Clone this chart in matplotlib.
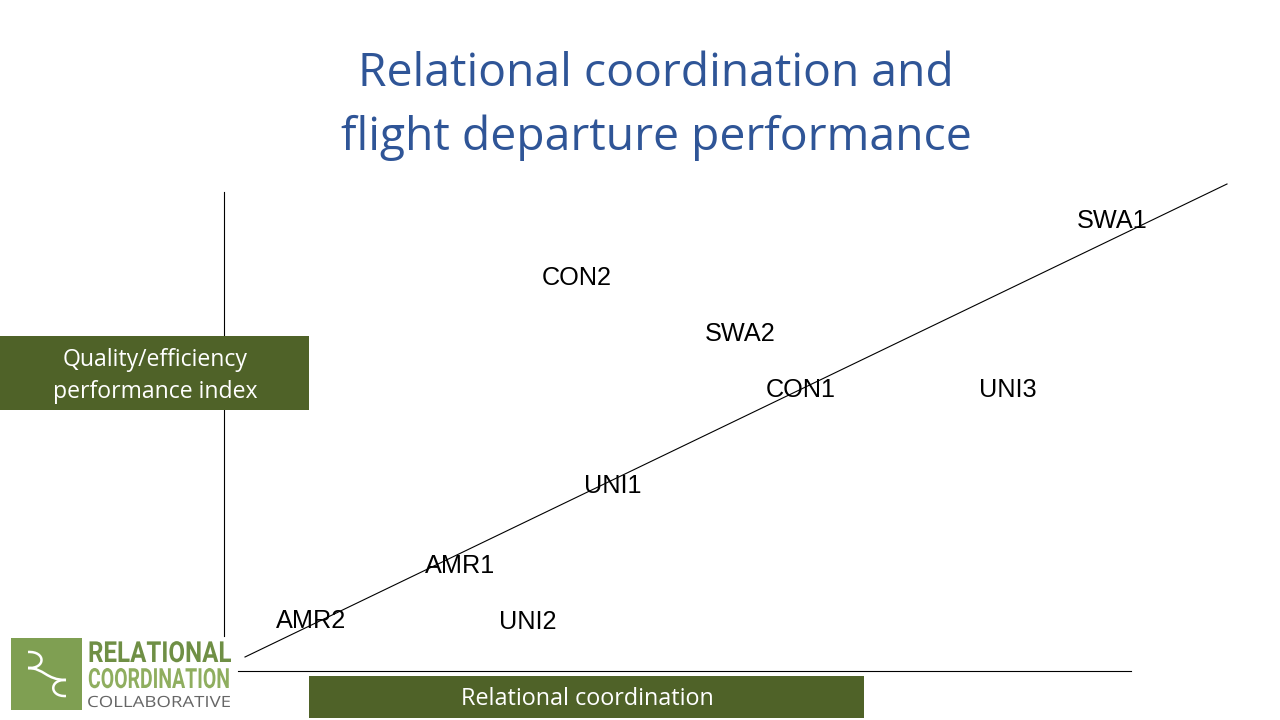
import matplotlib
matplotlib.use("Agg")
import matplotlib.pyplot as plt
import matplotlib.patheffects as pe
from matplotlib.patches import Rectangle, PathPatch
from matplotlib.path import Path
from matplotlib.transforms import Affine2D

# carrier sites in pixels of the 1280x720 slide
sites = ["SWA1", "CON2", "SWA2", "CON1", "UNI3", "UNI1", "AMR1", "AMR2", "UNI2"]
site_x = [1112, 577, 740, 801, 1008, 613, 460, 311, 528]
site_y = [221, 278, 334, 390, 390, 486, 566, 621, 622]
trend_x = [245, 1227]
trend_y = [657, 184]

title_lines = ["Relational coordination and", "flight departure performance"]
x_label = "Relational coordination"
y_label = ["Quality/efficiency", "performance index"]

BLUE = "#2f5597"
GREEN = "#4f6228"
LOGO = "#7f9f52"
LOGO_DARK = "#6f8f45"
LOGO_LIGHT = "#8fae5f"


class StretchY(pe.AbstractPathEffect):
    # logo lettering is narrower than any installed font, so stretch it about its baseline
    def __init__(self, base, sy):
        super().__init__()
        self.base, self.sy = base, sy

    def draw_path(self, renderer, gc, tpath, affine, rgbFace=None):
        y0 = 720 - self.base
        stretch = Affine2D().translate(0, -y0).scale(1, self.sy).translate(0, y0)
        renderer.draw_path(gc, tpath, affine + stretch, rgbFace)


plt.rcParams["font.family"] = ["Open Sans", "DejaVu Sans"]

fig = plt.figure(figsize=(12.8, 7.2), dpi=100)
ax = fig.add_axes([0, 0, 1, 1])
ax.set_xlim(0, 1280)
ax.set_ylim(720, 0)
ax.axis("off")

ax.text(656, 74, title_lines[0], color=BLUE, fontsize=33.3, ha="center", va="center")
ax.text(656, 138, title_lines[1], color=BLUE, fontsize=33.3, ha="center", va="center")

# axes lines and trend
ax.plot([224, 224], [192, 636], color="black", lw=0.8)
ax.plot([238, 1131], [671, 671], color="black", lw=0.8)
ax.plot(trend_x, trend_y, color="black", lw=0.8)

for s, x, y in zip(sites, site_x, site_y):
    ax.text(x, y, s, fontsize=18.2, family=["Liberation Sans"], ha="center", va="center", color="black")

# green label boxes
ax.add_patch(Rectangle((0, 336), 309, 74, color=GREEN, lw=0, zorder=3))
ax.text(155, 360, y_label[0], color="white", fontsize=16.6, ha="center", va="center", zorder=4)
ax.text(155, 392, y_label[1], color="white", fontsize=16.6, ha="center", va="center", zorder=4)
ax.add_patch(Rectangle((309, 676), 555, 42, color=GREEN, lw=0, zorder=3))
ax.text(587, 699, x_label, color="white", fontsize=16.8, ha="center", va="center", zorder=4)

# logo
ax.add_patch(Rectangle((11, 638), 71, 72, color=LOGO, lw=0, zorder=3))
upper = Path(
    [(28, 652), (46, 651), (46, 669), (28, 668), (44, 668), (46, 680), (66, 680)],
    [Path.MOVETO, Path.CURVE4, Path.CURVE4, Path.CURVE4, Path.CURVE4, Path.CURVE4, Path.CURVE4],
)
ax.add_patch(PathPatch(upper, fill=False, edgecolor="white", lw=1.8, zorder=4))
lower = Path(
    [(66, 680), (49, 679), (49, 697), (66, 696)],
    [Path.MOVETO, Path.CURVE4, Path.CURVE4, Path.CURVE4],
)
ax.add_patch(PathPatch(lower, fill=False, edgecolor="white", lw=1.8, zorder=4))

ax.text(88, 662, "RELATIONAL", color=LOGO_DARK, fontsize=17.4, family=["Roboto"], weight="bold",
        ha="left", va="baseline", zorder=4, path_effects=[StretchY(662, 1.2)])
ax.text(88, 688, "COORDINATION", color=LOGO_LIGHT, fontsize=14.0, family=["Roboto"], weight="bold",
        ha="left", va="baseline", zorder=4, path_effects=[StretchY(688, 1.43)])
ax.text(87, 707, "COLLABORATIVE", color="#666666", fontsize=13.4, family=["Open Sans"],
        ha="left", va="baseline", zorder=4, path_effects=[StretchY(707, 0.83)])

fig.savefig("out.png", dpi=100)
